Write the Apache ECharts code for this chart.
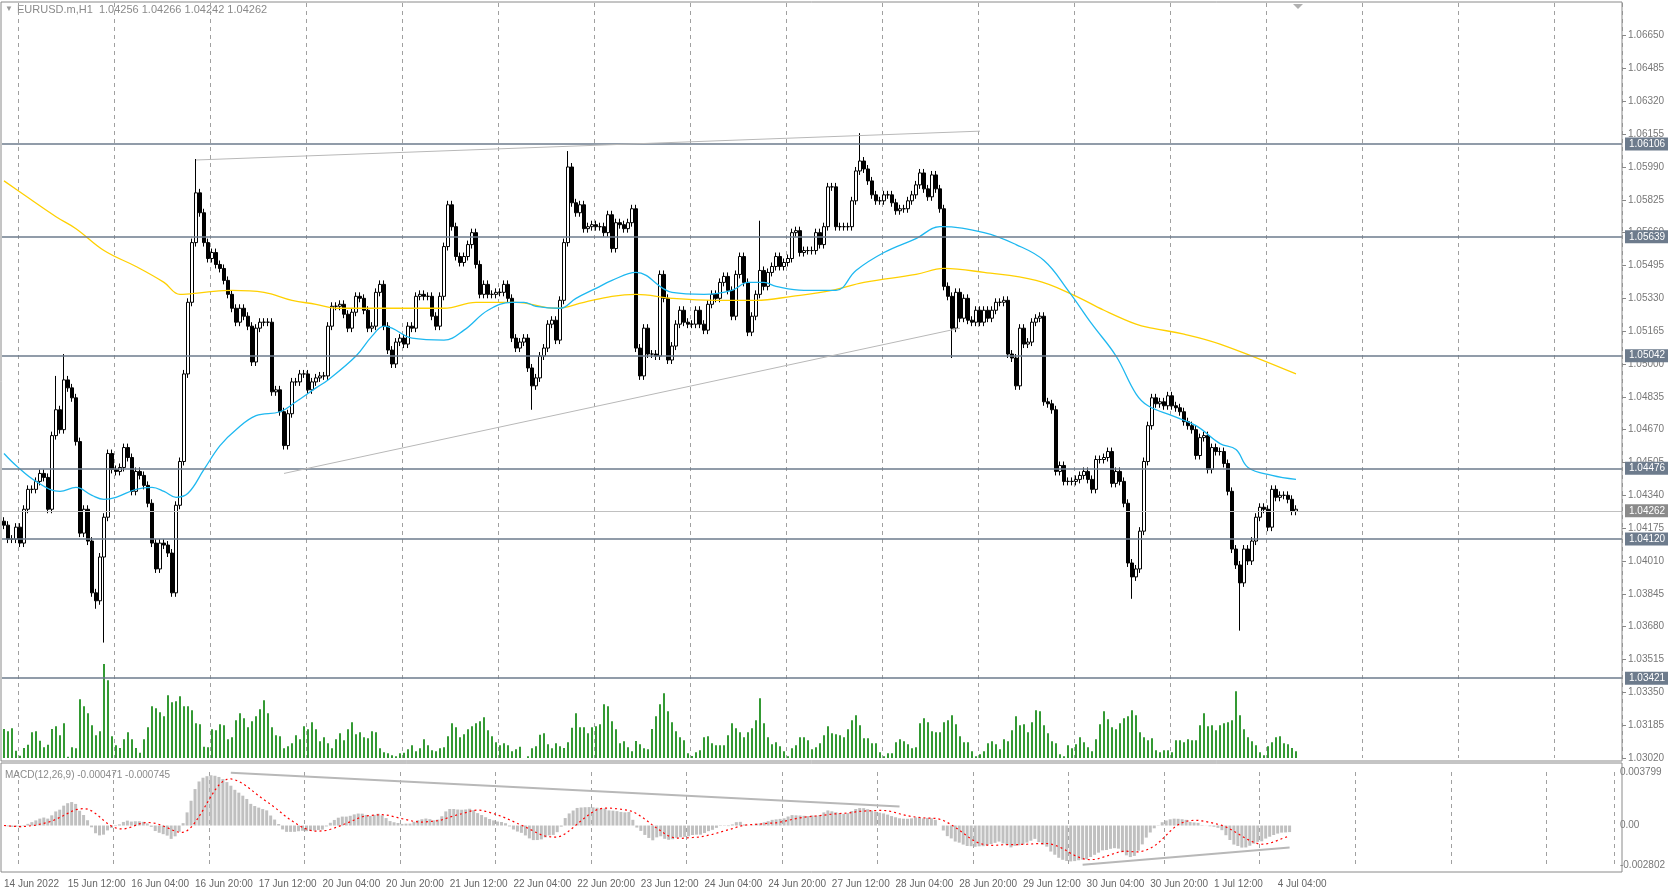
<!DOCTYPE html>
<html><head><meta charset="utf-8">
<script src="https://cdn.jsdelivr.net/npm/echarts@6/dist/echarts.min.js"></script>
<style>html,body{margin:0;padding:0;background:#fff}#c{width:1668px;height:891px}</style>
</head><body><div id="c"></div>
<script>
// closes in 0.0001 above 1.0000 (e.g. 427 -> 1.0427)
const closes = [419,412,412,418,410,427,437,437,441,445, 443,427,464,477,467,492,488,483,461,415,
427,411,385,381,403,423,455,447,446,448, 458,453,436,446,444,439,430,410,397,410,
409,405,385,429,451,495,531,561,586,576, 561,553,556,550,548,542,535,528,521,528,
524,519,501,518,521,521,521,486,487,476, 459,475,491,491,495,495,487,
491,493,494,494,519,529,529,530,525,518, 526,534,533,527,518,519,536,540,519,507,
500,511,513,510,519,518,534,535,534,534, 524,519,534,559,580,569,554,551,554,560,
566,550,535,540,535,535,536,536,540,533, 513,508,511,513,498,489,493,504,508,520,
522,512,532,561,599,581,576,580,568,569, 570,569,569,566,575,
558,571,570,568,571,578,508,494,518,505, 505,504,545,533,502,509,520,527,521,520,
520,527,520,517,530,535,533,541,544,537, 524,545,554,541,516,524,535,547,539,546,
549,554,549,551,553,566,567,556,557,557, 557,566,560,569,589,589,569,569,569,569,
582,597,602,598,592,585,582,582,585,585, 581,577,578,578,582,
585,590,596,588,584,595,588,578, 539,
534,518,536,523,533,522,521,527,521,527, 523,527,531,531,532,505,503,489,518,510,
511,521,523,524,481,480,477,446,449,441, 441,441,442,444,446,442,437,452,452,453,
456,440,446,441,430,400,393,397,416,451, 469,483,480,481,479,484,479,478,476,471,
469,467,454,463,464,447,458,456,456,
450,436,407,399,390,407,401,411,423,428, 427,418,437,433,434,434,432,426,427];
const firstOpen = 421;
const wickDefault = 2;
const highWicks = {13:17,15:13,48:17,141:8,189:25,214:14};
const lowWicks = {23:4,25:43,132:12,237:15,282:11,309:24};
const volumes = [87,80,89,22,7,30,40,77,80,52, 32,40,87,95,68,104,4,32,29,176,
155,134,98,68,80,282,233,65,38,30, 56,77,56,30,16,56,92,155,149,137,
125,188,167,170,185,155,155,143,104,101, 34,32,86,83,101,98,56,62,113,134,
119,92,110,125,146,173,134,92,68,65, 29,35,44,68,56,95,86,107,86,50,
62,44,29,56,74,53,86,107,71,77, 62,59,80,77,29,17,14,8,5,14,
16,26,38,20,29,56,38,23,20,29, 32,65,104,92,62,71,86,95,104,110,
122,83,65,47,38,44,38,20,26,34, 0,5,29,35,70,74,41,29,44,35,
30,47,91,134,92,92,74,92,95,101, 161,155,110,86,44,50,32,20,51,41, 29,26,
87,125,161,194,140,107,80,62,53,14, 6,17,23,62,65,44,38,38,38,68,
104,89,77,62,77,89,113,179,104,62, 41,47,35,20,5,29,38,62,62,53,
26,32,44,68,95,74,71,68,62,86, 113,128,98,59,59,44,44,17,5,14,
14,47,56,50,41,29,32,104,119,107, 80,77,77,107,113,128,101,65,47,47,
20,5,11,20,44,50,41,26,56,50, 83,125,98,101,77,107,143,140,98,74,
50,44,11,5,38,29,41,62,47,32, 20,56,101,140,116,92,86,104,119,125,
143,128,77,62,53,59,23,17,23,23, 17,53,53,47,56,53,53,98,134,95,
98,83,98,104,107,113,200,128,86,62, 50,38,17,8,35,47,62,65,44,41, 30,20];
const maBlue = [[0,455],[3,449],[8,441],[14,436],[18,438],[22,434],[25,432],[28,433],[33,437],[37,438],[40,436],[43,433],[46,435],[50,447],[54,459],[58,467],[63,474],[69,476],[73,481],[78,488],[81,492],[88,504],[92,514],[95,519],[97,518],[102,513],[110,512],[115,517],[121,527],[127,531],[130,531],[133,529],[139,528],[143,533],[148,538],[152,542],[158,546],[167,536],[175,535],[182,537],[186,541],[190,541],[193,539],[200,537],[208,537],[213,547],[220,556],[228,563],[234,569],[245,566],[253,560],[260,552],[266,537],[272,520],[278,504],[283,485],[286,479],[292,474],[298,469],[304,460],[308,457],[311,448],[317,444],[323,442]];
const maYellow = [[0,592],[5,585],[13,574],[18,568],[25,557],[33,549],[40,541],[44,535],[50,536],[57,537],[65,536],[72,532],[78,530],[83,528],[100,528],[110,528],[118,531],[128,531],[138,528],[145,531],[152,534],[158,535],[167,533],[178,532],[188,532],[197,534],[207,537],[215,541],[228,545],[235,548],[245,546],[258,542],[267,535],[275,527],[283,520],[287,518],[295,515],[304,510],[323,495]];
const levels = [1.06106,1.05639,1.05042,1.04476,1.04120,1.03421];
const currentPrice = 1.04262;
const trendPrice = [[[48,1.06025],[244,1.0617]],[[70,1.0445],[239,1.0518]]];
const trendMacd = [[[57,0.00374],[225,0.00135]],[[271,-0.00278],[323,-0.00156]]];
const tickLabels = ["14 Jun 2022","15 Jun 12:00","16 Jun 04:00","16 Jun 20:00","17 Jun 12:00","20 Jun 04:00","20 Jun 20:00","21 Jun 12:00","22 Jun 04:00","22 Jun 20:00","23 Jun 12:00","24 Jun 04:00","24 Jun 20:00","27 Jun 12:00","28 Jun 04:00","28 Jun 20:00","29 Jun 12:00","30 Jun 04:00","30 Jun 20:00","1 Jul 12:00","4 Jul 04:00"];
const SLOTS = 405;

const P = v => +(1 + v/10000).toFixed(5);
const cats = []; for (let i=0;i<SLOTS;i++) cats.push(String(i));
const ohlc = closes.map((c,i)=>{
  const o = i===0?firstOpen:closes[i-1];
  const hi = Math.max(o,c) + (highWicks[i]!==undefined?highWicks[i]:wickDefault);
  const lo = Math.min(o,c) - (lowWicks[i]!==undefined?lowWicks[i]:wickDefault);
  return [P(o),P(c),P(lo),P(hi)];
});
// MACD(12,26,9) from closes: main = EMA12-EMA26, signal = SMA9(main)
const cl = closes.map(P);
let e12=cl[0], e26=cl[0]; const macd=[];
cl.forEach(v=>{e12+= (2/13)*(v-e12); e26+=(2/27)*(v-e26); macd.push(e12-e26);});
const sig = macd.map((v,i)=>{const s=Math.max(0,i-8);let t=0;for(let k=s;k<=i;k++)t+=macd[k];return t/(i-s+1);});

const font = '"Liberation Sans", Arial, sans-serif';
const lblStyle = (bg)=>({show:true,position:'end',color:'#fff',backgroundColor:bg,padding:[2,4,1,4],fontSize:10,fontFamily:font,distance:3});
const lvlLines = levels.map(v=>({yAxis:v, lineStyle:{color:'#6d7b8c',width:1.5,type:'solid'},
  label:Object.assign(lblStyle('#6d7b8c'),{formatter:v.toFixed(5)})}));
lvlLines.push({yAxis:currentPrice, lineStyle:{color:'#c0c0c0',width:1,type:'solid'},
  label:Object.assign(lblStyle('#8a8a8a'),{formatter:currentPrice.toFixed(5)})});
const tlLines = trendPrice.map(t=>[{coord:[String(t[0][0]),t[0][1]]},{coord:[String(t[1][0]),t[1][1]]}]);
const macdTl = trendMacd.map(t=>[{coord:[String(t[0][0]),t[0][1]]},{coord:[String(t[1][0]),t[1][1]]}]);

const dashSplit = {show:true, interval:(i)=> i%24===4, lineStyle:{color:'#a0a0a0', type:[4,4], width:1}};
const chart = echarts.init(document.getElementById('c'));
chart.setOption({
  animation:false,
  grid:[
    {left:2,width:1620,top:3,height:755},
    {left:2,width:1620,top:664,height:94},
    {left:2,width:1620,top:772,height:93}
  ],
  xAxis:[
    {type:'category',data:cats,gridIndex:0,boundaryGap:true,axisLine:{show:false},axisTick:{show:false},axisLabel:{show:false},splitLine:dashSplit},
    {type:'category',data:cats,gridIndex:1,boundaryGap:true,axisLine:{show:false},axisTick:{show:false},axisLabel:{show:false},splitLine:{show:false}},
    {type:'category',data:cats,gridIndex:2,boundaryGap:true,axisLine:{show:false},
     axisTick:{show:false},
     axisLabel:{show:true,interval:(i)=>i%16===0 && i<=320,formatter:(v,i)=>tickLabels[i/16]||'',align:'left',margin:14,color:'#666',fontSize:10,fontFamily:font},
     splitLine:dashSplit}
  ],
  yAxis:[
    {type:'value',gridIndex:0,position:'right',min:1.0302,max:1.06814,interval:0.00165,
     axisLine:{show:false},axisTick:{show:true,length:4,lineStyle:{color:'#888'}},splitLine:{show:false},
     axisLabel:{showMaxLabel:false,formatter:v=>v.toFixed(5),color:'#777',fontSize:10,fontFamily:font,margin:6}},
    {type:'value',gridIndex:1,min:0,max:282,show:false},
    {type:'value',gridIndex:2,position:'right',min:-0.002802,max:0.003799,interval:0.006601,
     axisLine:{show:false},axisTick:{show:false},splitLine:{show:false},
     axisLabel:{formatter:v=>v.toFixed(6),color:'#777',fontSize:10,fontFamily:font,margin:6}},
    {type:'value',gridIndex:2,position:'right',min:-0.002802,max:0.003799,interval:0.002802,
     axisLine:{show:false},axisTick:{show:false},splitLine:{show:false},
     axisLabel:{formatter:v=>Math.abs(v)<1e-9?'0.00':'',color:'#777',fontSize:10,fontFamily:font,margin:6}}
  ],
  series:[
    {type:'bar',xAxisIndex:1,yAxisIndex:1,data:volumes,barWidth:1.6,itemStyle:{color:'#008000'},silent:true},
    {type:'line',xAxisIndex:0,yAxisIndex:0,data:[],symbol:'none',
     markLine:{symbol:['none','none'],precision:6,silent:true,animation:false,data:lvlLines}},
    {type:'line',xAxisIndex:0,yAxisIndex:0,data:[],symbol:'none',
     markLine:{symbol:['none','none'],precision:6,silent:true,animation:false,label:{show:false},lineStyle:{color:'#b8b8b8',width:1,type:'solid'},data:tlLines}},
    {type:'line',xAxisIndex:0,yAxisIndex:0,data:maYellow.map(d=>[String(d[0]),P(d[1])]),smooth:0.4,symbol:'none',lineStyle:{color:'#ffd000',width:1.3}},
    {type:'line',xAxisIndex:0,yAxisIndex:0,data:maBlue.map(d=>[String(d[0]),P(d[1])]),smooth:0.4,symbol:'none',lineStyle:{color:'#1eb8f0',width:1.3}},
    {type:'candlestick',xAxisIndex:0,yAxisIndex:0,data:ohlc,barWidth:3,
     itemStyle:{color:'#ffffff',color0:'#000000',borderColor:'#000000',borderColor0:'#000000',borderWidth:1}},
    {type:'bar',xAxisIndex:2,yAxisIndex:2,data:macd,barWidth:3,itemStyle:{color:'#c0c0c0'},clip:false,
     markLine:{symbol:['none','none'],precision:7,silent:true,label:{show:false},lineStyle:{color:'#b8b8b8',width:2,type:'solid'},data:macdTl}},
    {type:'line',xAxisIndex:2,yAxisIndex:2,data:sig,symbol:'none',lineStyle:{color:'#ff0000',width:1.2,type:[2,3]},clip:false}
  ],
  graphic:[
    {type:'rect',shape:{x:1,y:2,width:1621,height:759},style:{fill:'none',stroke:'#8a8a8a',lineWidth:1},z:100},
    {type:'rect',shape:{x:1,y:763,width:1621,height:109},style:{fill:'none',stroke:'#8a8a8a',lineWidth:1},z:100},
    {type:'text',left:5,top:5,style:{text:'▼',fill:'#999',font:'8px '+font}},
    {type:'text',left:17,top:4,style:{text:'EURUSD.m,H1  1.04256 1.04266 1.04242 1.04262',fill:'#8a8a8a',font:'11px '+font}},
    {type:'text',left:5,top:770,style:{text:'MACD(12,26,9) -0.000471 -0.000745',fill:'#8a8a8a',font:'10px '+font}},
    {type:'polygon',shape:{points:[[1293,4],[1303,4],[1298,9]]},style:{fill:'#b0b0b0'}}
  ]
});
</script></body></html>
